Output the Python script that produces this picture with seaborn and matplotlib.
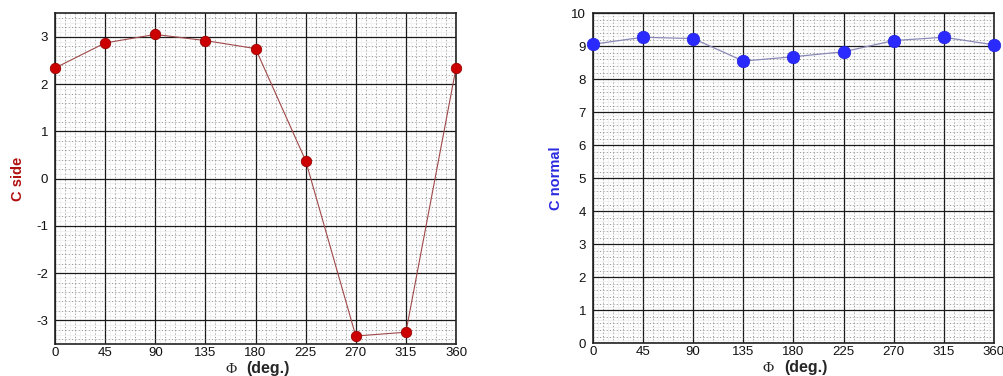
import numpy as np
import pandas as pd
import matplotlib
matplotlib.use("Agg")
import matplotlib.pyplot as plt
from matplotlib.ticker import MultipleLocator
import seaborn as sns

# Roll angle (deg.) and coefficients
phi = [0, 45, 90, 135, 180, 225, 270, 315, 360]
c_side = [2.34, 2.87, 3.05, 2.92, 2.75, 0.38, -3.33, -3.25, 2.34]
c_normal = [9.06, 9.27, 9.23, 8.55, 8.68, 8.83, 9.17, 9.27, 9.04]

x_ticks = [0, 45, 90, 135, 180, 225, 270, 315, 360]

df = pd.DataFrame({"phi": phi, "c_side": c_side, "c_normal": c_normal})

sns.set_style("white")
plt.rcParams["font.family"] = ["Liberation Sans", "DejaVu Sans"]
plt.rcParams["axes.unicode_minus"] = False

fig = plt.figure(figsize=(10.04, 3.76), dpi=100)
ax1 = fig.add_axes([0.0548, 0.085, 0.3994, 0.880])
ax2 = fig.add_axes([0.5906, 0.087, 0.3994, 0.878])


def style_axes(ax, ylim, ymajor):
    ax.set_xlim(0, 360)
    ax.set_ylim(*ylim)
    ax.set_xticks(x_ticks)
    ax.xaxis.set_minor_locator(MultipleLocator(9))
    ax.yaxis.set_major_locator(MultipleLocator(ymajor))
    ax.yaxis.set_minor_locator(MultipleLocator(ymajor / 5))
    # faint fine grid
    for xv in np.arange(0, 360.1, 4.5):
        ax.axvline(xv, color="#f0f0f0", lw=0.6, zorder=0)
    for yv in np.arange(ylim[0], ylim[1] + 1e-9, ymajor / 10):
        ax.axhline(yv, color="#f0f0f0", lw=0.6, zorder=0)
    ax.grid(which="minor", color="#7a7a7a", lw=0.6, ls=(0, (1, 3)), zorder=0.5)
    ax.grid(which="major", color="#1a1a1a", lw=0.9, ls="-", zorder=0.6)
    ax.set_axisbelow(True)
    for s in ax.spines.values():
        s.set_color("#222222")
        s.set_linewidth(1.2)
    ax.tick_params(which="major", direction="in", length=5, width=1.6,
                   labelsize=9.5, pad=2, colors="#111111")
    ax.tick_params(which="minor", direction="in", length=2.5, width=0.8,
                   colors="#111111")
    ax.tick_params(axis="y", which="major", pad=5)
    ax.set_xlabel("")
    ax.text(0.452, -0.087, "\u03a6", transform=ax.transAxes, ha="right",
            va="baseline", fontsize=11,
            family=["Liberation Serif", "DejaVu Serif"])
    ax.text(0.477, -0.087, "(deg.)", transform=ax.transAxes, ha="left",
            va="baseline", fontsize=11.5, fontweight="bold")


sns.lineplot(data=df, x="phi", y="c_side", ax=ax1, color="#a04848", lw=0.8,
             marker="o", markersize=7.5, markerfacecolor="#cc0000",
             markeredgecolor="#990000", markeredgewidth=0.6, zorder=3,
             clip_on=False)
style_axes(ax1, (-3.5, 3.5), 1)
ax1.set_ylabel("C side", color="#b01010", fontsize=10.5, fontweight="bold")
ax1.yaxis.set_label_coords(-0.075, 0.5)

sns.lineplot(data=df, x="phi", y="c_normal", ax=ax2, color="#8a8ab8", lw=0.9,
             marker="o", markersize=9, markerfacecolor="#2a2aff",
             markeredgecolor="#2020dd", markeredgewidth=0.5, zorder=3,
             clip_on=False)
style_axes(ax2, (0, 10), 1)
ax2.set_ylabel("C normal", color="#2a2ae0", fontsize=10.5, fontweight="bold")
ax2.yaxis.set_label_coords(-0.075, 0.5)

fig.savefig("out.png", dpi=100)
